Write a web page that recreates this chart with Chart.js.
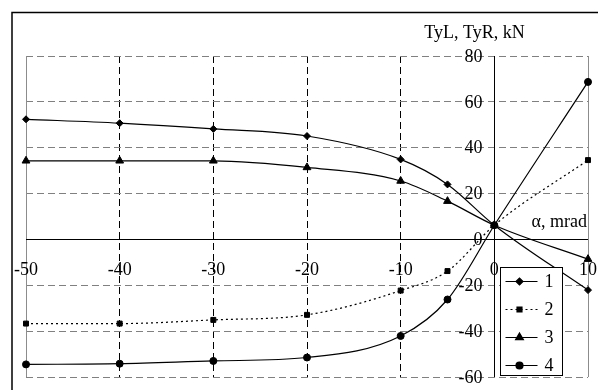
<!DOCTYPE html>
<html>
<head>
<meta charset="utf-8">
<script src="https://cdn.jsdelivr.net/npm/chart.js@4"></script>
<style>
  body { margin: 0; background: #fff; }
  #wrap { width: 598px; height: 390px; }
</style>
</head>
<body>
<div id="wrap"><canvas id="myChart" width="598" height="390"></canvas></div>
<script>
const alpha = [-50, -40, -30, -20, -10, -5, 0, 10];
const s1 = [52.4, 50.7, 48.2, 45.1, 34.9, 24.0, 6.2, -22.1];
const s2 = [-36.7, -36.7, -35.1, -32.9, -22.3, -13.8, 6.2, 34.6];
const s3 = [34.3, 34.3, 34.3, 31.4, 25.5, 16.7, 6.2, -8.6];
const s4 = [-54.5, -54.2, -53.0, -51.5, -42.1, -26.2, 6.2, 68.7];
const seriesNames = ["1", "2", "3", "4"];
const xTicks = [-50, -40, -30, -20, -10, 0, 10];
const yTicks = [-60, -40, -20, 0, 20, 40, 60, 80];

const FONT = '"Liberation Serif", "Times New Roman", serif';

function pts(ys) {
  return alpha.map((x, i) => ({ x: x, y: ys[i] }));
}

function makeSet(label, ys, shape, radius, dash) {
  return {
    label: label,
    data: pts(ys),
    borderColor: "#000",
    backgroundColor: "#000",
    borderWidth: 1.2,
    borderDash: dash,
    pointStyle: shape,
    pointRadius: radius,
    pointBorderWidth: 1,
    cubicInterpolationMode: "monotone",
    fill: false,
    clip: false,
  };
}

// axes through the origin, tick labels, titles and legend box
const decor = {
  id: "decor",
  beforeDatasetsDraw(chart) {
    const ctx = chart.ctx;
    const xs = chart.scales.x;
    const ys = chart.scales.y;
    const a = chart.chartArea;
    ctx.save();
    // plot side borders
    ctx.strokeStyle = "#8c8c8c";
    ctx.lineWidth = 1;
    ctx.beginPath();
    ctx.moveTo(Math.round(a.left) + 0.5, a.top);
    ctx.lineTo(Math.round(a.left) + 0.5, a.bottom);
    ctx.moveTo(Math.round(a.right) + 0.5, a.top);
    ctx.lineTo(Math.round(a.right) + 0.5, a.bottom);
    ctx.stroke();
    // axes
    const x0 = Math.round(xs.getPixelForValue(0)) + 0.5;
    const y0 = Math.round(ys.getPixelForValue(0)) + 0.5;
    ctx.strokeStyle = "#000";
    ctx.beginPath();
    ctx.moveTo(a.left, y0);
    ctx.lineTo(a.right, y0);
    ctx.moveTo(x0, a.top);
    ctx.lineTo(x0, a.bottom);
    ctx.stroke();
    // tick labels
    ctx.fillStyle = "#000";
    ctx.font = "18px " + FONT;
    ctx.textBaseline = "middle";
    ctx.textAlign = "center";
    xTicks.forEach((v) => {
      ctx.fillText(String(v), xs.getPixelForValue(v), y0 + 31);
    });
    ctx.textAlign = "right";
    yTicks.forEach((v) => {
      ctx.fillText(String(v), x0 - 12, ys.getPixelForValue(v) + 1);
    });
    ctx.textAlign = "center";
    ctx.fillText("TyL, TyR, kN", x0 - 20, a.top - 23);
    ctx.textAlign = "right";
    ctx.fillText("\u03b1, mrad", a.right - 1, y0 - 17);
    ctx.restore();
  },
  afterDraw(chart) {
    const ctx = chart.ctx;
    const xs = chart.scales.x;
    ctx.save();
    // outer frame
    ctx.strokeStyle = "#000";
    ctx.lineWidth = 1.5;
    ctx.strokeRect(12, 12.5, 620, 420);
    // legend
    const lx = Math.round(xs.getPixelForValue(0)) + 6.5;
    const ly = 267.5;
    ctx.fillStyle = "#fff";
    ctx.fillRect(lx, ly, 62, 108);
    ctx.lineWidth = 1;
    ctx.strokeRect(lx, ly, 62, 108);
    ctx.font = "18px " + FONT;
    ctx.textBaseline = "middle";
    ctx.textAlign = "left";
    chart.data.datasets.forEach((ds, i) => {
      const y = ly + 14 + i * 28;
      ctx.strokeStyle = "#000";
      ctx.lineWidth = ds.borderWidth;
      ctx.setLineDash(ds.borderDash || []);
      ctx.beginPath();
      ctx.moveTo(lx + 5, y);
      ctx.lineTo(lx + 37, y);
      ctx.stroke();
      ctx.setLineDash([]);
      Chart.helpers.drawPoint(ctx, {
        pointStyle: ds.pointStyle,
        radius: ds.pointRadius,
        borderWidth: 1,
        rotation: 0,
      }, lx + 19, y);
      ctx.fillStyle = "#000";
      ctx.fill();
      ctx.fillText(seriesNames[i], lx + 44, y + 1);
    });
    ctx.restore();
  },
};

const ctxEl = document.getElementById("myChart");
const chart = new Chart(ctxEl, {
  type: "line",
  data: {
    datasets: [
      makeSet(seriesNames[0], s1, "rectRot", 3.5, []),
      makeSet(seriesNames[1], s2, "rect", 3.5, [2, 3]),
      makeSet(seriesNames[2], s3, "triangle", 4.5, []),
      makeSet(seriesNames[3], s4, "circle", 3.5, []),
    ],
  },
  options: {
    responsive: false,
    animation: false,
    layout: { padding: { left: 26, right: 10, top: 56, bottom: 13 } },
    plugins: { legend: { display: false }, tooltip: { enabled: false } },
    scales: {
      x: {
        type: "linear",
        min: -50,
        max: 10,
        ticks: { display: false, stepSize: 10 },
        border: { display: false, dash: [7, 4] },
        grid: {
          drawTicks: false,
          lineWidth: 1,
          color: (c) => {
            const v = c.tick ? c.tick.value : null;
            return v === -50 || v === 0 || v === 10 ? "rgba(0,0,0,0)" : "#000";
          },
        },
      },
      y: {
        type: "linear",
        min: -60,
        max: 80,
        ticks: { display: false, stepSize: 20 },
        border: { display: false, dash: [7, 4] },
        grid: {
          drawTicks: false,
          lineWidth: 1,
          color: (c) => {
            const v = c.tick ? c.tick.value : null;
            return v === 0 ? "rgba(0,0,0,0)" : "#808080";
          },
        },
      },
    },
  },
  plugins: [decor],
});
</script>
</body>
</html>
